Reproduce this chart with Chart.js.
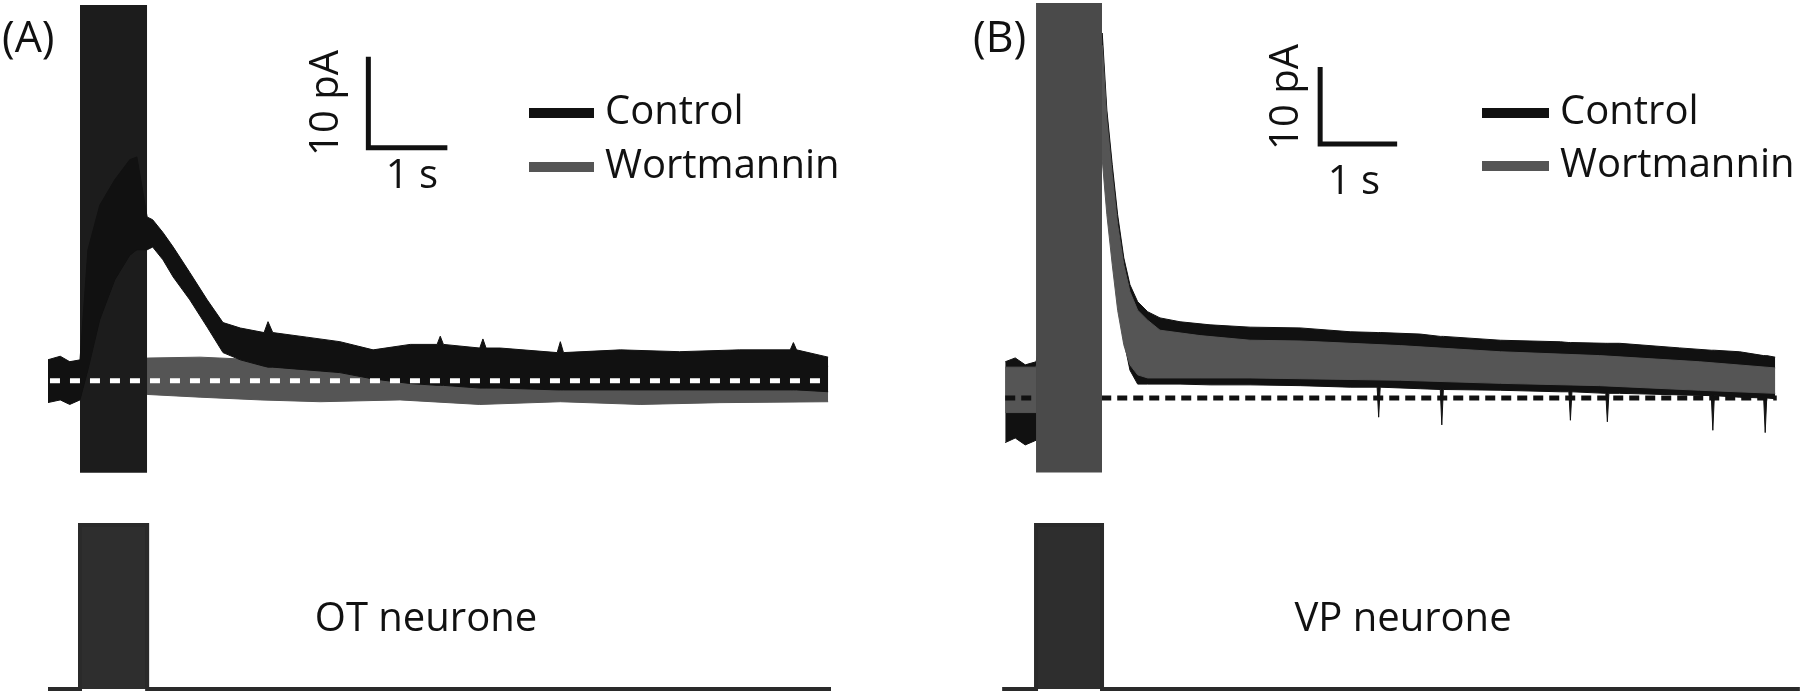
<!DOCTYPE html>
<html>
<head>
<meta charset="utf-8">
<script src="https://cdn.jsdelivr.net/npm/chart.js"></script>
<style>
  html, body { margin: 0; padding: 0; background: #fff; }
  #wrap { position: relative; width: 1800px; height: 695px; }
  .panel { position: absolute; top: 0; width: 900px; height: 695px; }
</style>
</head>
<body>
<div id="wrap">
  <div class="panel" style="left:0"><canvas id="chartA"></canvas></div>
  <div class="panel" style="left:900px"><canvas id="chartB"></canvas></div>
</div>
<script>
// ---- panel A : OT neurone (time in s from stimulus onset, current in pA above baseline)
const ctrlTimeA  = [-0.41, -0.25, -0.13, 0, 0.10, 0.25, 0.44, 0.63, 0.72, 0.85, 0.92, 1.05, 1.18, 1.39, 1.61, 1.81, 2.03, 2.33, 2.38, 2.44, 2.87, 3.29, 3.71, 4.18, 4.52, 4.56, 4.60, 5.06, 5.10, 5.14, 5.32, 6.04, 6.08, 6.12, 6.84, 7.59, 8.35, 8.99, 9.03, 9.07, 9.47];
const ctrlUpperA = [2.3, 2.7, 2.1, 2.3, 14.4, 19.3, 22.1, 24.3, 24.6, 18.0, 17.7, 16.3, 14.7, 11.9, 8.9, 6.4, 5.8, 5.3, 6.5, 5.3, 4.8, 4.3, 3.4, 4.0, 4.0, 4.9, 4.0, 3.6, 4.6, 3.6, 3.6, 3.1, 4.3, 3.1, 3.4, 3.2, 3.4, 3.4, 4.2, 3.4, 2.6];
const ctrlLowerA = [-2.4, -2.1, -2.6, -2.1, 1.2, 6.7, 11.1, 13.8, 14.4, 14.4, 14.7, 13.3, 11.4, 8.9, 5.9, 3.1, 2.3, 1.6, 1.5, 1.5, 1.2, 0.9, 0.2, -0.3, -0.5, -0.5, -0.5, -0.8, -0.8, -0.8, -0.8, -1.0, -1.0, -1.0, -1.0, -1.0, -1.0, -1.0, -1.0, -1.0, -1.2];
const wortTimeA  = [-0.41, 0, 0.85, 1.52, 2.28, 3.04, 4.05, 5.06, 6.08, 7.09, 8.10, 9.47];
const wortUpperA = [2.1, 2.1, 2.5, 2.6, 2.3, 2.1, 1.8, 1.8, 1.6, 1.6, 1.6, 1.6];
const wortLowerA = [-1.9, -1.9, -1.5, -1.8, -2.1, -2.3, -2.1, -2.6, -2.3, -2.6, -2.4, -2.3];
const artefactA  = { start: 0, end: 0.85, top: 41.3, bottom: -10.1 };
const stimTimeA  = [-0.405, 0, 0, 0.85, 0.85, 9.506];
const stimLevelA = [0, 0, 1, 1, 0, 0];
const baseTimeA  = [-0.38, 9.47];
const barTimeA   = [3.65, 3.65, 4.65];
const barCurrA   = [35.6, 25.6, 25.6];

// ---- panel B : VP neurone
const ctrlTimeB  = [-0.40, -0.27, -0.14, 0, 0.18, 0.44, 0.70, 0.86, 0.92, 0.99, 1.06, 1.14, 1.22, 1.32, 1.45, 1.61, 1.87, 2.26, 2.78, 3.43, 4.08, 4.43, 4.45, 4.47, 4.99, 5.25, 5.27, 5.29, 6.03, 6.81, 6.92, 6.94, 6.96, 7.40, 7.42, 7.44, 7.58, 8.36, 8.77, 8.79, 8.81, 9.14, 9.45, 9.47, 9.49, 9.60];
const ctrlUpperB = [4.7, 5.2, 4.3, 4.7, 12.7, 32.2, 45.2, 47.4, 37.4, 30.3, 23.8, 18.2, 14.7, 12.5, 11.2, 10.4, 9.9, 9.5, 9.2, 9.1, 8.6, 8.5, 8.5, 8.5, 8.3, 8.0, 8.0, 8.0, 7.5, 7.3, 7.2, 7.2, 7.2, 7.1, 7.1, 7.1, 7.1, 6.5, 6.2, 6.2, 6.2, 6.0, 5.5, 5.5, 5.5, 5.3];
const ctrlLowerB = [-5.8, -5.2, -6.1, -5.5, 4.9, 19.2, 33.5, 33.5, 25.7, 19.2, 12.7, 7.5, 3.6, 1.8, 1.8, 1.8, 1.8, 1.7, 1.7, 1.6, 1.4, 1.4, -2.5, 1.4, 1.2, 1.1, -3.5, 1.1, 1.0, 0.8, 0.8, -2.9, 0.8, 0.6, -3.1, 0.6, 0.6, 0.4, 0.3, -4.2, 0.3, 0.1, 0.0, -4.5, 0.0, -0.1];
const wortTimeB  = [-0.40, 0, 0.86, 0.92, 0.99, 1.06, 1.14, 1.22, 1.32, 1.45, 1.61, 2.13, 2.78, 3.43, 4.73, 6.03, 7.32, 8.62, 9.60];
const wortUpperB = [4.0, 4.0, 45.8, 36.1, 29.0, 22.5, 17.3, 13.8, 11.4, 10.1, 8.8, 8.1, 7.5, 7.4, 6.8, 6.0, 5.5, 4.7, 3.9];
const wortLowerB = [-1.9, -1.9, 30.9, 23.8, 17.3, 11.4, 6.9, 4.3, 3.0, 2.6, 2.6, 2.6, 2.6, 2.5, 2.3, 1.9, 1.6, 1.0, 0.6];
const artefactB  = { start: 0, end: 0.857, top: 51.3, bottom: -9.7 };
const stimTimeB  = [-0.44, 0, 0, 0.857, 0.857, 9.92];
const stimLevelB = [0, 0, 1, 1, 0, 0];
const baseTimeB  = [-0.40, 9.62];
const barTimeB   = [3.69, 3.69, 4.69];
const barCurrB   = [43.0, 33.0, 33.0];

const seriesNames = ['Control', 'Wortmannin'];
const CTRL = '#111111', WORT = '#555555';

function pts(xs, ys) { return xs.map((x, i) => ({ x: x, y: ys[i] })); }

// panel letters, scale-bar labels and legend keys drawn on top of each panel
const panelText = {
  id: 'panelText',
  afterDraw(chart, args, opts) {
    const ctx = chart.ctx;
    ctx.save();
    ctx.fillStyle = '#111';
    opts.items.forEach(it => {
      ctx.save();
      ctx.font = (it.size || 40) + 'px "Open Sans"';
      ctx.translate(it.x, it.y);
      if (it.rot) ctx.rotate(it.rot);
      ctx.textAlign = it.align || 'center';
      ctx.textBaseline = 'middle';
      ctx.fillText(it.text, 0, 0);
      ctx.restore();
    });
    ctx.font = '40px "Open Sans"';
    opts.keys.forEach((k, i) => {
      ctx.fillStyle = k.color;
      ctx.fillRect(k.x0, k.y - 5, k.x1 - k.x0, 10);
      ctx.fillStyle = '#111';
      ctx.textAlign = 'left';
      ctx.textBaseline = 'middle';
      ctx.fillText(seriesNames[i], k.x1 + 11, k.y);
    });
    ctx.restore();
  }
};

function band(times, upper, lower, color, order) {
  return [
    { data: pts(times, upper), borderColor: color, backgroundColor: color, borderWidth: 1, fill: '+1', order: order },
    { data: pts(times, lower), borderColor: color, borderWidth: 1, fill: false, order: order + 0.1 }
  ];
}

function makePanel(id, d) {
  const datasets = [
    // baseline dashed
    { data: pts(d.baseTime, [0, 0]), borderColor: d.dashColor, borderWidth: d.dashWidth, borderDash: d.dash, fill: false, order: d.dashOrder },
    // scale bar
    { data: pts(d.barTime, d.barCurr), borderColor: '#111', borderWidth: 5, fill: false, order: 0, borderJoinStyle: 'miter' },
    // stimulation artefact
    { data: pts([d.art.start, d.art.end], [d.art.top, d.art.top]), borderWidth: 0, backgroundColor: d.artColor, fill: { value: d.art.bottom }, order: d.artOrder },
    // stimulus channel
    { data: pts(d.stimTime, d.stimLevel), yAxisID: 'ys', borderColor: '#2a2a2a', backgroundColor: '#2e2e2e', borderWidth: 4, fill: 'origin', order: 9 }
  ].concat(
    band(d.ctrlTime, d.ctrlUpper, d.ctrlLower, CTRL, d.ctrlOrder),
    band(d.wortTime, d.wortUpper, d.wortLower, WORT, d.wortOrder)
  );
  return new Chart(document.getElementById(id), {
    type: 'line',
    data: { datasets: datasets },
    options: {
      responsive: true,
      maintainAspectRatio: false,
      animation: false,
      layout: { padding: d.pad },
      elements: { point: { radius: 0 }, line: { tension: 0, borderCapStyle: 'butt' } },
      scales: {
        x: { type: 'linear', min: d.xMin, max: d.xMax, display: false },
        y: { type: 'linear', min: d.yMin, max: d.yMax, display: false },
        ys: { type: 'linear', min: -0.018, max: d.ysMax, display: false }
      },
      plugins: {
        legend: { display: false },
        tooltip: { enabled: false },
        panelText: { items: d.items, keys: d.keys }
      }
    },
    plugins: [panelText]
  });
}

makePanel('chartA', {
  ctrlTime: ctrlTimeA, ctrlUpper: ctrlUpperA, ctrlLower: ctrlLowerA,
  wortTime: wortTimeA, wortUpper: wortUpperA, wortLower: wortLowerA,
  art: artefactA, artColor: '#1c1c1c', artOrder: 3,
  ctrlOrder: 2, wortOrder: 5,
  stimTime: stimTimeA, stimLevel: stimLevelA,
  baseTime: baseTimeA, dashColor: '#ffffff', dashWidth: 5, dash: [10, 10], dashOrder: 1,
  barTime: barTimeA, barCurr: barCurrA,
  pad: { left: 48, right: 69, top: 5, bottom: 3 },
  xMin: -0.405, xMax: 9.506, yMin: -34.2, yMax: 41.3, ysMax: 4.17,
  items: [
    { text: '(A)', x: 2, y: 40, align: 'left', size: 43 },
    { text: '10 pA', x: 327, y: 103, rot: -Math.PI / 2 },
    { text: '1 s', x: 412, y: 177 },
    { text: 'OT neurone', x: 426, y: 620 }
  ],
  keys: [
    { x0: 529, x1: 594, y: 113, color: CTRL },
    { x0: 529, x1: 594, y: 167, color: WORT }
  ]
});

makePanel('chartB', {
  ctrlTime: ctrlTimeB, ctrlUpper: ctrlUpperB, ctrlLower: ctrlLowerB,
  wortTime: wortTimeB, wortUpper: wortUpperB, wortLower: wortLowerB,
  art: artefactB, artColor: '#4a4a4a', artOrder: 1,
  ctrlOrder: 5, wortOrder: 3,
  stimTime: stimTimeB, stimLevel: stimLevelB,
  baseTime: baseTimeB, dashColor: '#111111', dashWidth: 5, dash: [10, 6], dashOrder: 2,
  barTime: barTimeB, barCurr: barCurrB,
  pad: { left: 100, right: 0, top: 0, bottom: 3 },
  xMin: -0.468, xMax: 9.922, yMin: -38.2, yMax: 51.7, ysMax: 4.201,
  items: [
    { text: '(B)', x: 73, y: 40, align: 'left', size: 43 },
    { text: '10 pA', x: 387, y: 97, rot: -Math.PI / 2 },
    { text: '1 s', x: 454, y: 183 },
    { text: 'VP neurone', x: 503, y: 620 }
  ],
  keys: [
    { x0: 582, x1: 649, y: 113, color: CTRL },
    { x0: 582, x1: 649, y: 166, color: WORT }
  ]
});
</script>
</body>
</html>
